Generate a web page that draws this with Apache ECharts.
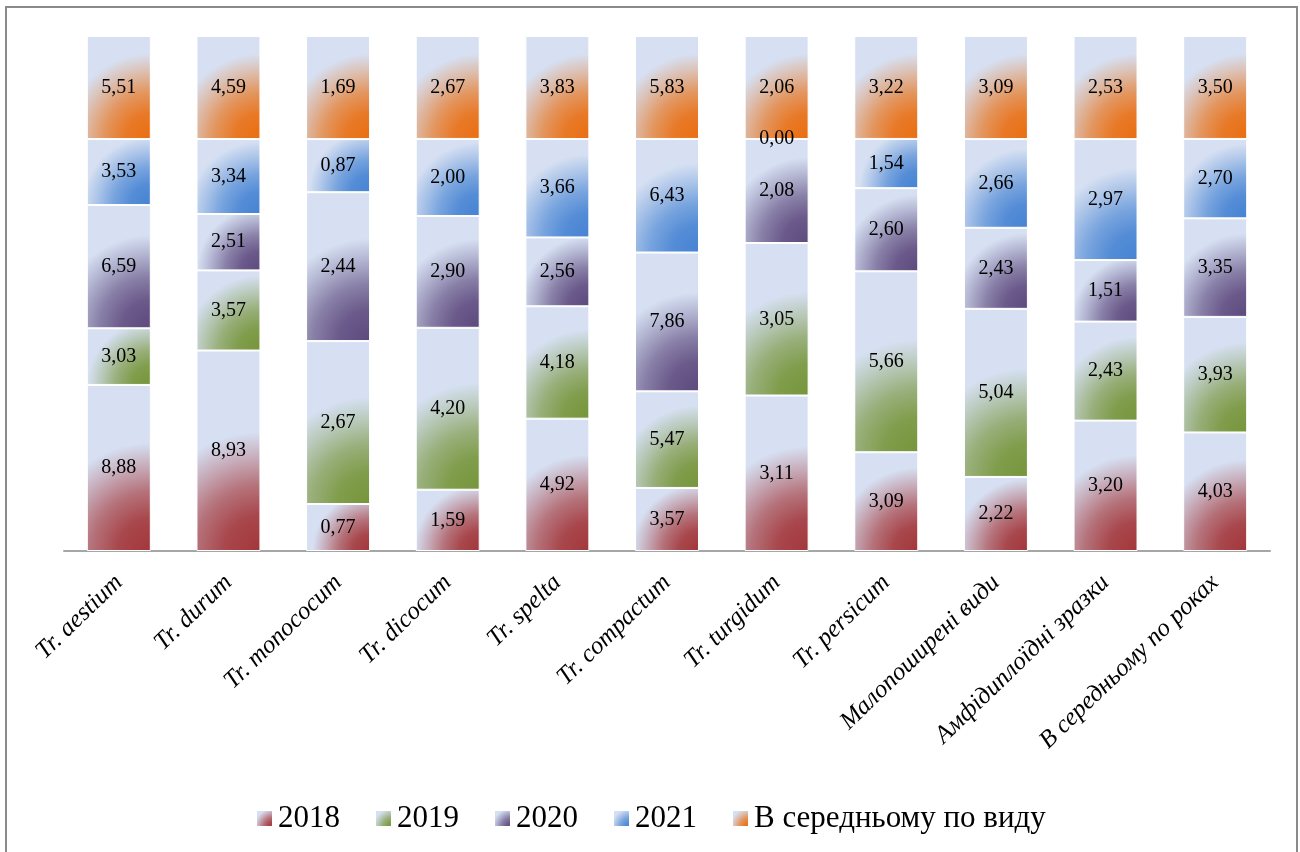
<!DOCTYPE html>
<html>
<head>
<meta charset="utf-8">
<script src="https://cdn.jsdelivr.net/npm/echarts@6/dist/echarts.min.js"></script>
<style>
html,body{margin:0;padding:0;background:#fff}
#c{width:1300px;height:852px}
</style>
</head>
<body>
<div id="c"></div>
<script>
const categories = ['Tr. aestium','Tr. durum','Tr. monococum','Tr. dicocum','Tr. spelta','Tr. compactum','Tr. turgidum','Tr. persicum','Малопоширені види','Амфідиплоїдні зразки','В середньому по роках'];
const seriesNames = ['2018','2019','2020','2021','В середньому по виду'];
const s2018 = [8.88, 8.93, 0.77, 1.59, 4.92, 3.57, 3.11, 3.09, 2.22, 3.20, 4.03];
const s2019 = [3.03, 3.57, 2.67, 4.20, 4.18, 5.47, 3.05, 5.66, 5.04, 2.43, 3.93];
const s2020 = [6.59, 2.51, 2.44, 2.90, 2.56, 7.86, 2.08, 2.60, 2.43, 1.51, 3.35];
const s2021 = [3.53, 3.34, 0.87, 2.00, 3.66, 6.43, 0.00, 1.54, 2.66, 2.97, 2.70];
const sAvg  = [5.51, 4.59, 1.69, 2.67, 3.83, 5.83, 2.06, 3.22, 3.09, 2.53, 3.50];

const allSeries = [s2018, s2019, s2020, s2021, sAvg];
const colors = ['#a3363a', '#76953a', '#5e4a7e', '#4683d3', '#ea6e10'];
const LIGHT = '#d6e0f2';
const FONT = 'Liberation Serif';

// style constants (gradient sizing only)
const BAR_W = 64;
const PLOT_H = 852 - 36 - 301;

function hex(c){return [parseInt(c.slice(1,3),16),parseInt(c.slice(3,5),16),parseInt(c.slice(5,7),16)];}
function mix(a,b,t){const A=hex(a),B=hex(b);return 'rgb('+A.map((v,i)=>Math.round(v+(B[i]-v)*t)).join(',')+')';}
function grad(c, w, h){
  const mn = Math.max(1, Math.min(w, h));
  const r = Math.sqrt(w * h) * 1.05 / mn;
  return {type:'radial', x:1, y:1, r:r, colorStops:[
    {offset:0, color:c},
    {offset:0.3, color:mix(c, LIGHT, 0.1)},
    {offset:0.55, color:mix(c, LIGHT, 0.35)},
    {offset:0.8, color:mix(c, LIGHT, 0.72)},
    {offset:1, color:LIGHT}
  ]};
}

const totals = categories.map((_, i) => allSeries.reduce((s, arr) => s + arr[i], 0));

const series = allSeries.map((arr, si) => ({
  name: seriesNames[si],
  type: 'bar',
  stack: 'total',
  barWidth: BAR_W,
  itemStyle: {color: grad(colors[si], 1, 1), borderColor: '#fff', borderWidth: 1},
  label: {
    show: true, position: 'inside', color: '#000',
    fontFamily: FONT, fontSize: 20,
    formatter: p => arr[p.dataIndex].toFixed(2).replace('.', ',')
  },
  data: arr.map((v, i) => {
    const pct = v / totals[i] * 100;
    return {value: pct, itemStyle: {color: grad(colors[si], BAR_W, pct / 100 * PLOT_H)}};
  })
}));

const option = {
  animation: false,
  backgroundColor: '#fff',
  graphic: [{type: 'rect', shape: {x: 6, y: 7, width: 1291, height: 860}, style: {fill: 'none', stroke: '#8a8a8a', lineWidth: 2}, silent: true}],
  grid: {left: 64, right: 30, top: 36, bottom: 301},
  legend: {
    data: seriesNames, left: 250, top: 798,
    itemWidth: 17, itemHeight: 17, itemGap: 34,
    textStyle: {fontFamily: FONT, fontSize: 31, color: '#000'},
    icon: 'rect'
  },
  xAxis: {
    type: 'category', data: categories,
    axisLine: {lineStyle: {color: '#a6a6a6', width: 2}},
    axisTick: {show: false},
    axisLabel: {rotate: 44, interval: 0, margin: 28, fontFamily: FONT, fontStyle: 'italic', fontSize: 25, color: '#000'}
  },
  yAxis: {type: 'value', min: 0, max: 100, show: false, splitLine: {show: false}},
  series: series
};

const chart = echarts.init(document.getElementById('c'), null, {renderer: 'canvas'});
chart.setOption(option);
function redraw(){ chart.clear(); chart.setOption(option); }
if (document.fonts && document.fonts.ready) document.fonts.ready.then(redraw);
</script>
</body>
</html>
